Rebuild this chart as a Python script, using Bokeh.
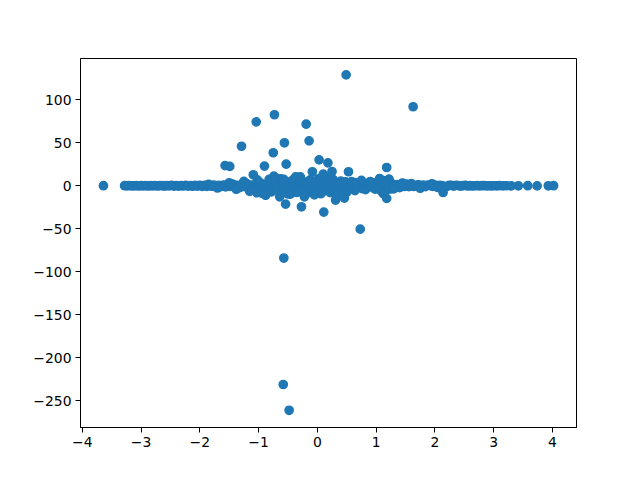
from bokeh.plotting import figure
from bokeh.models import Range1d, FixedTicker
from bokeh.embed import file_html
from bokeh.resources import INLINE

# Dense band at the left and right ends (y close to 0)
edge_x = [-3.64, -3.28, -3.24, -3.20, -3.16, -3.12, -3.08, -3.04, -3.00, -2.96, -2.92, -2.88,
          -2.84, -2.80, -2.76, -2.72, -2.68, -2.64, -2.60, -2.56, -2.52, -2.48, -2.44, -2.40,
          -2.36, -2.32, -2.28, -2.24, -2.20, -2.16, -2.12, -2.08, -2.04, -2.00, -1.96, -1.92,
          -1.88, -1.84, -1.80, -1.76, -1.72, -1.68, -1.64,
          1.60, 1.64, 1.68, 1.72, 1.76, 1.80, 1.84, 1.88, 1.92, 1.96, 2.00, 2.04, 2.08, 2.12,
          2.16, 2.20, 2.24, 2.28, 2.32, 2.36, 2.40, 2.44, 2.48, 2.52, 2.56, 2.60, 2.64, 2.68,
          2.72, 2.76, 2.80, 2.84, 2.88, 2.92, 2.96, 3.00, 3.05, 3.10, 3.16, 3.22, 3.30,
          3.42, 3.58, 3.74, 3.93, 4.02]
edge_y = [0.1, 0.1, -0.1, 0.2, -0.1, 0.0, 0.2, -0.2, 0.1, 0.0, 0.2, -0.2,
          0.1, -0.1, 0.3, -0.2, 0.1, 0.3, -0.3, 0.2, -0.1, 0.4, -0.3, 0.2,
          -0.4, 0.3, -0.2, 0.5, -0.4, 0.3, -0.5, 0.6, -0.3, 0.4, -0.7, 0.5,
          -0.6, 0.8, -0.5, 0.9, -0.8, 0.6, -1.0,
          1.0, -0.8, 0.6, 1.2, -0.5, 0.9, -1.0, 0.7, 0.4, -0.6, 0.8, -0.9, 0.5, 0.2,
          -0.6, -0.9, 0.4, 0.6, -0.3, 0.5, 0.3, -0.4, 0.2, 0.4, -0.2, 0.3, -0.2, 0.1,
          0.2, -0.1, 0.1, 0.2, -0.1, 0.1, 0.0, 0.1, -0.1, 0.1, 0.0, 0.1, 0.0,
          0.0, 0.1, -0.1, 0.0, 0.1]

# Central band
core_x = [-1.60, -1.56, -1.52, -1.48, -1.44, -1.40, -1.36, -1.32, -1.28, -1.24,
          -1.20, -1.16, -1.12, -1.08, -1.04, -1.00, -0.96, -0.92, -0.88, -0.84,
          -0.80, -0.76, -0.72, -0.68, -0.64, -0.60, -0.56, -0.52, -0.48, -0.44,
          -0.40, -0.36, -0.32, -0.28, -0.24, -0.20, -0.16, -0.12, -0.08, -0.04,
          0.00, 0.04, 0.08, 0.12, 0.16, 0.20, 0.24, 0.28, 0.32, 0.36,
          0.40, 0.44, 0.48, 0.52, 0.56, 0.60, 0.64, 0.68, 0.72, 0.76,
          0.80, 0.84, 0.88, 0.92, 0.96, 1.00, 1.04, 1.08, 1.12, 1.16,
          1.20, 1.24, 1.28, 1.32, 1.36, 1.40, 1.44, 1.48, 1.52, 1.56]
core_y = [0.8, -1.2, 1.5, -0.6, 2.1, -1.8, 0.4, -2.2, 1.7, -0.9,
          2.6, -1.5, 0.7, -2.8, 1.9, -0.3, 3.1, -2.4, 1.2, -3.0,
          2.4, -1.1, 3.5, -2.7, 0.9, -3.8, 2.9, -1.6, 4.2, -3.3,
          1.4, -4.5, 3.6, -2.0, 4.8, -3.9, 1.8, -5.1, 4.0, -2.6,
          5.3, -4.4, 2.2, -5.6, 4.5, -3.1, 5.0, -4.7, 2.5, -5.2,
          4.1, -3.4, 4.6, -4.0, 2.0, -3.6, 3.8, -2.2, 3.0, -3.2,
          1.6, -2.5, 2.8, -1.4, 3.4, -2.9, 4.4, -5.5, 6.2, -4.8,
          5.8, -3.7, 2.1, -1.3, 1.5, -2.1, 2.6, -0.8, 1.9, -1.0]

# Spread of the central band
spread_x = [-1.50, -1.38, -1.25, -1.15, -1.02, -0.95, -0.82, -0.78, -0.70, -0.66,
            -0.62, -0.50, -0.42, -0.35, -0.30, -0.18, -0.12, -0.05, 0.02, 0.06,
            0.14, 0.22, 0.27, 0.35, 0.40, 0.50, 0.58, 0.64, 0.75, 0.82,
            0.90, 0.98, 1.06, 1.12, 1.22, 1.30, 1.45, 1.60, 1.75, 1.95,
            2.05, -1.70, -1.85, -0.88, -0.25, 0.32, -0.60, -0.44, -0.10, 0.08,
            0.20, 0.45, -0.98, -0.72, -0.33, 0.66, 1.10, 1.15]
spread_y = [3.5, -4.0, 5.2, -6.5, 6.8, -8.5, 7.5, -7.0, 9.0, -6.0,
            8.0, -9.5, 6.5, -7.8, 9.8, -8.8, 7.0, -10.5, 8.2, -9.2,
            6.0, -8.0, 7.2, -6.8, 5.5, -7.5, 4.8, -5.5, 6.2, -4.5,
            5.0, -3.8, 8.5, -9.0, 7.8, -3.5, 3.2, 2.5, -2.8, 2.4,
            -2.0, -2.5, 1.8, -11.0, -6.0, -10.5, 5.5, -6.2, 4.6, -7.2,
            8.8, 3.0, -4.8, -3.6, 6.9, 2.8, 4.2, -6.6]

# Outliers
out_x = [0.49, -0.73, -1.04, -0.19, -1.29, -0.56, -0.14, -0.75, -1.57, -1.49,
         -0.90, -0.53, 0.03, 0.18, -1.09, -0.085, 0.10, 0.25, 0.53, 1.18,
         1.63, -0.54, -0.27, 0.11, 0.73, -0.57, -0.58, -0.48, -0.64, -0.22,
         0.31, 0.46, 1.18, -1.03, -0.88, -0.46, -0.74, -0.57, -0.37, -0.29, 2.14]
out_y = [129, 82.6, 74.4, 71.7, 46, 50, 52.3, 38.4, 23.5, 22.5,
         22.9, 25.2, 30.2, 26.7, 12.8, 16.3, 13.6, 16.6, 16.3, 21.3,
         91.9, -21.3, -24.4, -30.6, -50.4, -84, -231, -261, -12.8, -12.8,
         -16.6, -14.3, -14.7, -8.1, -9.7, -9.7, 11.2, 7.4, 10.4, 10.4, -7.8]

x_ticks = [-4, -3, -2, -1, 0, 1, 2, 3, 4]
y_ticks = [-250, -200, -150, -100, -50, 0, 50, 100]

COLOR = "#1f77b4"

p = figure(output_backend="svg", toolbar_location=None,
           frame_width=496, frame_height=369,
           min_border_left=80, min_border_top=58, min_border_right=40, min_border_bottom=40,
           x_range=Range1d(-4.03, 4.41), y_range=Range1d(-281, 148))

for xs, ys in [(edge_x, edge_y), (core_x, core_y), (spread_x, spread_y), (out_x, out_y)]:
    p.scatter(xs, ys, size=8.3, fill_color=COLOR, line_color=COLOR, line_width=1.4)

p.xgrid.visible = False
p.ygrid.visible = False
p.outline_line_color = "black"
p.outline_line_width = 1
p.background_fill_color = "white"
p.border_fill_color = "white"

def minus(v):
    s = str(v)
    return s.replace("-", "\u2212")

p.xaxis.ticker = FixedTicker(ticks=x_ticks)
p.yaxis.ticker = FixedTicker(ticks=y_ticks)
p.xaxis.major_label_overrides = {t: minus(t) for t in x_ticks}
p.yaxis.major_label_overrides = {t: minus(t) for t in y_ticks}

for ax in (p.xaxis, p.yaxis):
    ax.axis_line_color = "black"
    ax.major_tick_line_color = "black"
    ax.major_tick_out = 5
    ax.major_tick_in = 0
    ax.minor_tick_line_color = None
    ax.major_label_text_font = "DejaVu Sans"
    ax.major_label_text_font_size = "13.9px"
    ax.major_label_text_color = "black"
    ax.major_label_standoff = 4

open("out.html", "w").write(file_html(p, INLINE))
